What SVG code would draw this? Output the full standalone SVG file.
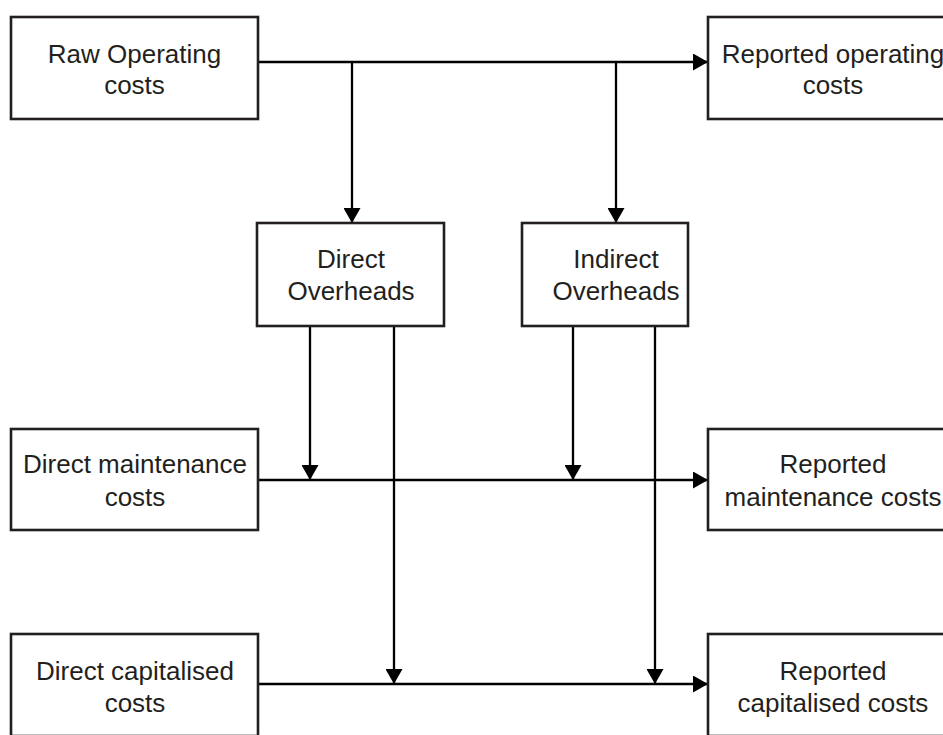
<svg xmlns="http://www.w3.org/2000/svg" width="943" height="735" viewBox="0 0 943 735">
  <style>
    .box { fill: #ffffff; stroke: #231f20; stroke-width: 2.6; }
    .lbl { font-family: "Liberation Sans", Arial, sans-serif; font-size: 26px; fill: #231f20; text-anchor: middle; }
    .wire { fill: none; stroke: #000000; stroke-width: 2.3; }
  </style>
  <defs>
    <marker id="arrow" markerUnits="userSpaceOnUse" markerWidth="16" markerHeight="17" viewBox="0 0 15 17" refX="15" refY="8.5" orient="auto">
      <path d="M0,0 L15,8.5 L0,17 Z" fill="#000000"/>
    </marker>
  </defs>
  <rect width="943" height="735" fill="#ffffff"/>

  <g id="connectors">
    <!-- operating costs split -->
    <path class="wire" d="M258,62 H708" marker-end="url(#arrow)"/>
    <path class="wire" d="M352,62 V223" marker-end="url(#arrow)"/>
    <path class="wire" d="M616,62 V223" marker-end="url(#arrow)"/>
    <!-- maintenance flow -->
    <path class="wire" d="M258,480 H708" marker-end="url(#arrow)"/>
    <path class="wire" d="M310,326 V480" marker-end="url(#arrow)"/>
    <path class="wire" d="M573,326 V480" marker-end="url(#arrow)"/>
    <!-- capitalised flow -->
    <path class="wire" d="M258,684 H708" marker-end="url(#arrow)"/>
    <path class="wire" d="M394,326 V684" marker-end="url(#arrow)"/>
    <path class="wire" d="M655,326 V684" marker-end="url(#arrow)"/>
  </g>

  <g id="raw-operating">
    <rect class="box" x="11" y="17" width="247" height="102"/>
    <text class="lbl" x="134.5" y="63">Raw Operating</text>
    <text class="lbl" x="134.5" y="94">costs</text>
  </g>
  <g id="reported-operating">
    <rect class="box" x="708" y="17" width="254" height="102"/>
    <text class="lbl" x="833" y="63">Reported operating</text>
    <text class="lbl" x="833" y="94">costs</text>
  </g>
  <g id="direct-overheads">
    <rect class="box" x="257" y="223" width="187" height="103"/>
    <text class="lbl" x="351" y="268">Direct</text>
    <text class="lbl" x="351" y="300">Overheads</text>
  </g>
  <g id="indirect-overheads">
    <rect class="box" x="522" y="223" width="166" height="103"/>
    <text class="lbl" x="616" y="268">Indirect</text>
    <text class="lbl" x="616" y="300">Overheads</text>
  </g>
  <g id="direct-maintenance">
    <rect class="box" x="11" y="429" width="247" height="101"/>
    <text class="lbl" x="135" y="473">Direct maintenance</text>
    <text class="lbl" x="135" y="506">costs</text>
  </g>
  <g id="reported-maintenance">
    <rect class="box" x="708" y="429" width="254" height="101"/>
    <text class="lbl" x="833" y="473">Reported</text>
    <text class="lbl" x="833" y="506">maintenance costs</text>
  </g>
  <g id="direct-capitalised">
    <rect class="box" x="11" y="634" width="247" height="102"/>
    <text class="lbl" x="135" y="680">Direct capitalised</text>
    <text class="lbl" x="135" y="712">costs</text>
  </g>
  <g id="reported-capitalised">
    <rect class="box" x="708" y="634" width="254" height="102"/>
    <text class="lbl" x="833" y="680">Reported</text>
    <text class="lbl" x="833" y="712">capitalised costs</text>
  </g>
</svg>
